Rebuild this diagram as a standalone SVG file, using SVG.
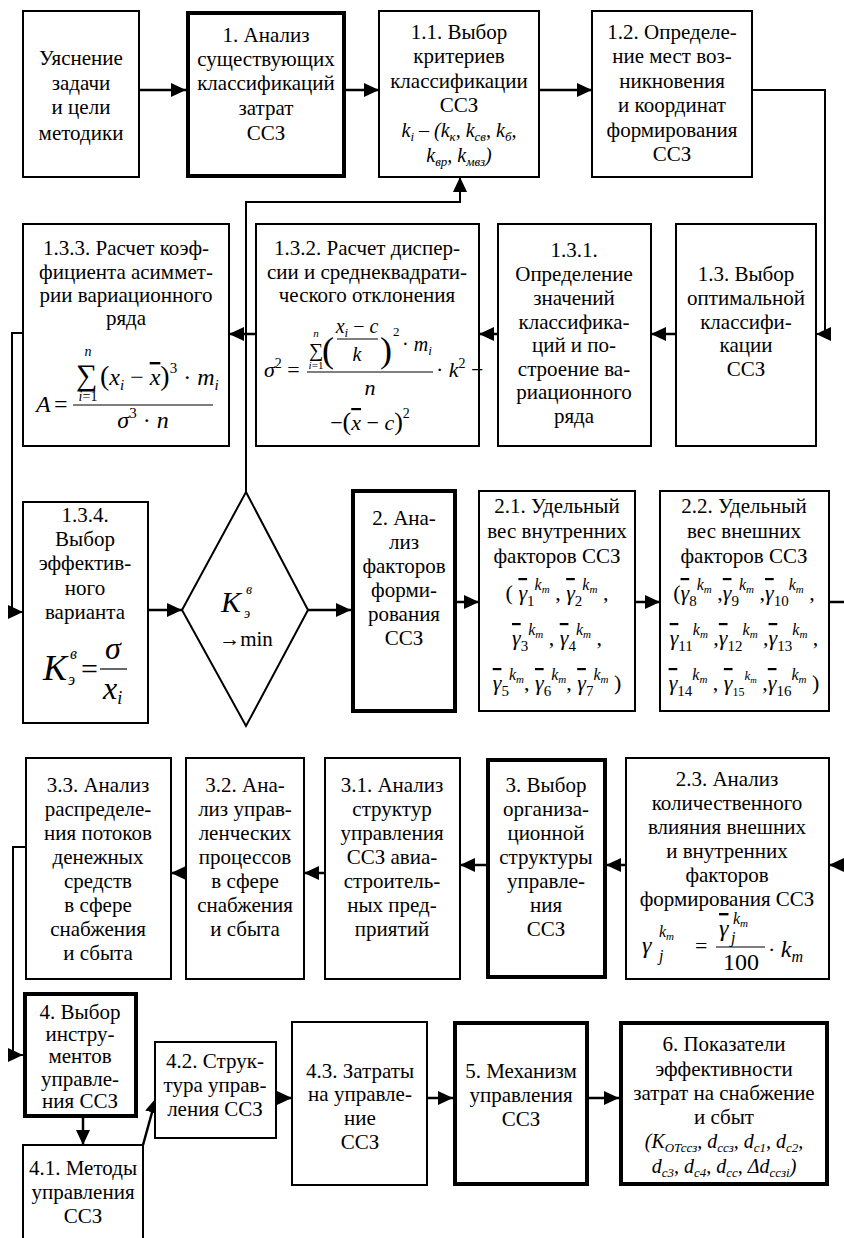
<svg xmlns="http://www.w3.org/2000/svg" width="844" height="1238" viewBox="0 0 844 1238" font-family="Liberation Serif, DejaVu Serif, serif">
<style>
.t{font-family:"Liberation Serif","DejaVu Serif",serif;font-size:21px;text-anchor:middle;fill:#000}
.f{font-family:"Liberation Serif","DejaVu Serif",serif;fill:#000}
.m{text-anchor:middle}
.i{font-style:italic}
.o{text-decoration:overline}
.b{fill:#fff;stroke:#000;stroke-width:2}
.k{fill:#fff;stroke:#000;stroke-width:4}
.c{fill:none;stroke:#000;stroke-width:2.5}
.c2{fill:none;stroke:#000;stroke-width:2}
.fl{stroke:#000;stroke-width:1.2}
</style>
<defs>
<marker id="ah" markerUnits="userSpaceOnUse" markerWidth="16" markerHeight="14" refX="15" refY="7" orient="auto">
<path d="M0,0 L15,7 L0,14 z" fill="#000"/>
</marker>
</defs>
<rect width="844" height="1238" fill="#fff"/>

<g id="connectors">
<path class="c" d="M139,90 H186" marker-end="url(#ah)"/>
<path class="c" d="M346,90 H379" marker-end="url(#ah)"/>
<path class="c" d="M539,90 H592" marker-end="url(#ah)"/>
<path class="c2" d="M752,90 H825 V334 H816" marker-end="url(#ah)"/>
<path class="c" d="M676,334 H651" marker-end="url(#ah)"/>
<path class="c" d="M498,334 H479" marker-end="url(#ah)"/>
<path class="c" d="M256,334 H229" marker-end="url(#ah)"/>
<path class="c2" d="M23,333 H12 V612 H23" marker-end="url(#ah)"/>
<path class="c" d="M148,610 H182" marker-end="url(#ah)"/>
<path class="c" d="M308,610 H351" marker-end="url(#ah)"/>
<path class="c2" d="M246,492 V202 H460 V177" marker-end="url(#ah)"/>
<path class="c" d="M455,602 H479" marker-end="url(#ah)"/>
<path class="c" d="M635,602 H660" marker-end="url(#ah)"/>
<path class="c" d="M829,602 H844"/>
<path class="c" d="M846,865 H829" marker-end="url(#ah)"/>
<path class="c" d="M626,865 H606" marker-end="url(#ah)"/>
<path class="c" d="M486,865 H460" marker-end="url(#ah)"/>
<path class="c" d="M325,873 H304" marker-end="url(#ah)"/>
<path class="c" d="M186,873 H171" marker-end="url(#ah)"/>
<path class="c2" d="M26,847 H13 V1055 H23" marker-end="url(#ah)"/>
<path class="c" d="M83,1118 V1145" marker-end="url(#ah)"/>
<path class="c" d="M143,1145 L156,1098" marker-end="url(#ah)"/>
<path class="c" d="M276,1098 H292" marker-end="url(#ah)"/>
<path class="c" d="M427,1098 H453" marker-end="url(#ah)"/>
<path class="c" d="M589,1098 H619" marker-end="url(#ah)"/>
</g>

<g id="n0">
<rect class="b" x="23" y="11" width="116" height="166"/>
<text class="t"><tspan x="81" y="65">Уяснение</tspan><tspan x="81" y="90">задачи</tspan><tspan x="81" y="114">и цели</tspan><tspan x="81" y="140">методики</tspan></text>
</g>

<g id="n1">
<rect class="k" x="188" y="13" width="156" height="163"/>
<text class="t"><tspan x="266" y="42">1. Анализ</tspan><tspan x="266" y="66">существующих</tspan><tspan x="266" y="90">классификаций</tspan><tspan x="266" y="115">затрат</tspan><tspan x="266" y="140">ССЗ</tspan></text>
</g>

<g id="n11">
<rect class="b" x="379" y="11" width="160" height="166"/>
<text class="t"><tspan x="459" y="39">1.1. Выбор</tspan><tspan x="459" y="63">критериев</tspan><tspan x="459" y="88">классификации</tspan><tspan x="459" y="112">ССЗ</tspan></text>
<text class="f m i" x="459" y="137" font-size="20">k<tspan font-size="13" dy="4">i</tspan><tspan dy="-4"> – (k</tspan><tspan font-size="13" dy="4">к</tspan><tspan dy="-4">, k</tspan><tspan font-size="13" dy="4">св</tspan><tspan dy="-4">, k</tspan><tspan font-size="13" dy="4">б</tspan><tspan dy="-4">,</tspan></text>
<text class="f m i" x="459" y="162" font-size="20">k<tspan font-size="13" dy="4">вр</tspan><tspan dy="-4">, k</tspan><tspan font-size="13" dy="4">мвз</tspan><tspan dy="-4">)</tspan></text>
</g>

<g id="n12">
<rect class="b" x="592" y="11" width="160" height="166"/>
<text class="t"><tspan x="672" y="39">1.2. Определе-</tspan><tspan x="672" y="63">ние мест воз-</tspan><tspan x="672" y="88">никновения</tspan><tspan x="672" y="112">и координат</tspan><tspan x="672" y="137">формирования</tspan><tspan x="672" y="161">ССЗ</tspan></text>
</g>

<g id="n13">
<rect class="b" x="676" y="224" width="140" height="222"/>
<text class="t"><tspan x="746" y="281">1.3. Выбор</tspan><tspan x="746" y="305">оптимальной</tspan><tspan x="746" y="329">классифи-</tspan><tspan x="746" y="352">кации</tspan><tspan x="746" y="376">ССЗ</tspan></text>
</g>

<g id="n131">
<rect class="b" x="498" y="224" width="153" height="222"/>
<text class="t"><tspan x="574" y="257">1.3.1.</tspan><tspan x="574" y="281">Определение</tspan><tspan x="574" y="305">значений</tspan><tspan x="574" y="329">классифика-</tspan><tspan x="574" y="352">ций и по-</tspan><tspan x="574" y="376">строение ва-</tspan><tspan x="574" y="399">риационного</tspan><tspan x="574" y="423">ряда</tspan></text>
</g>

<g id="n132">
<rect class="b" x="256" y="224" width="223" height="222"/>
<text class="t"><tspan x="367" y="255">1.3.2. Расчет диспер-</tspan><tspan x="367" y="279">сии и среднеквадрати-</tspan><tspan x="367" y="302">ческого отклонения</tspan></text>
<text class="f" x="309" y="357" font-size="20">∑</text>
<text class="f m i" x="316" y="337" font-size="11">n</text>
<text class="f m" x="316" y="369" font-size="11"><tspan class="i">i</tspan>=1</text>
<text class="f" x="322" y="362" font-size="36">(</text>
<text class="f m i" x="357" y="333" font-size="20">x<tspan font-size="13" dy="4">i</tspan><tspan dy="-4" font-style="normal"> − </tspan>c</text>
<line class="fl" x1="337" y1="339" x2="378" y2="339"/>
<text class="f m i" x="357" y="361" font-size="20">k</text>
<text class="f" x="380" y="362" font-size="36">)</text>
<text class="f" x="393" y="336" font-size="13">2</text>
<text class="f" x="402" y="351" font-size="20">· <tspan class="i">m</tspan><tspan class="i" font-size="13" dy="4">i</tspan></text>
<text class="f" x="264" y="377" font-size="22"><tspan class="i">σ</tspan><tspan font-size="14" dy="-9">2</tspan><tspan dy="9"> =</tspan></text>
<line class="fl" x1="307" y1="372" x2="433" y2="372"/>
<text class="f" x="436" y="377" font-size="22">· <tspan class="i">k</tspan><tspan font-size="14" dy="-9">2</tspan><tspan dy="9"> −</tspan></text>
<text class="f m i" x="370" y="395" font-size="22">n</text>
<text class="f m" x="370" y="430" font-size="22">−<tspan font-size="26">(</tspan><tspan class="i o">x</tspan> − <tspan class="i">c</tspan><tspan font-size="26">)</tspan><tspan font-size="14" dy="-12">2</tspan></text>
</g>

<g id="n133">
<rect class="b" x="23" y="224" width="206" height="222"/>
<text class="t"><tspan x="126" y="255">1.3.3. Расчет коэф-</tspan><tspan x="126" y="279">фициента асиммет-</tspan><tspan x="126" y="302">рии вариационного</tspan><tspan x="126" y="325">ряда</tspan></text>
<text class="f i" x="36" y="412" font-size="24">A</text>
<text class="f" x="54" y="412" font-size="24">=</text>
<line class="fl" x1="73" y1="405" x2="213" y2="405"/>
<text class="f" x="76" y="385" font-size="30">∑</text>
<text class="f m i" x="88" y="356" font-size="14">n</text>
<text class="f m" x="88" y="401" font-size="14"><tspan class="i">i</tspan>=1</text>
<text class="f" x="100" y="385" font-size="24"><tspan font-size="28">(</tspan><tspan class="i">x</tspan><tspan class="i" font-size="15" dy="5">i</tspan><tspan dy="-5"> − </tspan><tspan class="i o">x</tspan><tspan font-size="28">)</tspan><tspan font-size="15" dy="-12">3</tspan><tspan dy="12"> · </tspan><tspan class="i">m</tspan><tspan class="i" font-size="15" dy="5">i</tspan></text>
<text class="f m" x="143" y="428" font-size="24"><tspan class="i">σ</tspan><tspan font-size="15" dy="-10">3</tspan><tspan dy="10"> · </tspan><tspan class="i">n</tspan></text>
</g>

<g id="n134">
<rect class="b" x="23" y="502" width="125" height="221"/>
<text class="t"><tspan x="85" y="522">1.3.4.</tspan><tspan x="85" y="546">Выбор</tspan><tspan x="85" y="570">эффектив-</tspan><tspan x="85" y="595">ного</tspan><tspan x="85" y="619">варианта</tspan></text>
<text class="f i" x="43" y="680" font-size="36">K</text>
<text class="f i" x="68" y="685" font-size="16">э</text>
<text class="f i" x="70" y="659" font-size="16">в</text>
<text class="f" x="81" y="679" font-size="30">=</text>
<text class="f m i" x="113" y="659" font-size="32">σ</text>
<line class="fl" x1="100" y1="669" x2="127" y2="669"/>
<text class="f i" x="103" y="699" font-size="32">x<tspan font-size="18" dy="5">i</tspan></text>
</g>

<g id="nd">
<polygon points="246,492 308,610 246,726 182,610" fill="#fff" stroke="#000" stroke-width="2"/>
<text class="f i" x="221" y="612" font-size="30">K</text>
<text class="f i" x="244" y="618" font-size="14">э</text>
<text class="f i" x="246" y="594" font-size="14">в</text>
<text class="t" x="246" y="646">→min</text>
</g>

<g id="n2">
<rect class="k" x="353" y="491" width="102" height="220"/>
<text class="t"><tspan x="404" y="525">2. Ана-</tspan><tspan x="404" y="549">лиз</tspan><tspan x="404" y="573">факторов</tspan><tspan x="404" y="597">форми-</tspan><tspan x="404" y="621">рования</tspan><tspan x="404" y="645">ССЗ</tspan></text>
</g>

<g id="n21">
<rect class="b" x="479" y="491" width="156" height="220"/>
<text class="t"><tspan x="557" y="513">2.1. Удельный</tspan><tspan x="557" y="538">вес внутренних</tspan><tspan x="557" y="563">факторов ССЗ</tspan></text>
<text class="f m" x="557" y="600" font-size="22">( <tspan class="i o">γ</tspan><tspan font-size="15" dy="6">1</tspan><tspan class="i" font-size="16" dy="-16">k</tspan><tspan class="i" font-size="11" dy="3">m</tspan><tspan dy="7"> , </tspan><tspan class="i o">γ</tspan><tspan font-size="15" dy="6">2</tspan><tspan class="i" font-size="16" dy="-16">k</tspan><tspan class="i" font-size="11" dy="3">m</tspan><tspan dy="7"> ,</tspan></text>
<text class="f m" x="557" y="645" font-size="22"><tspan class="i o">γ</tspan><tspan font-size="15" dy="6">3</tspan><tspan class="i" font-size="16" dy="-16">k</tspan><tspan class="i" font-size="11" dy="3">m</tspan><tspan dy="7"> , </tspan><tspan class="i o">γ</tspan><tspan font-size="15" dy="6">4</tspan><tspan class="i" font-size="16" dy="-16">k</tspan><tspan class="i" font-size="11" dy="3">m</tspan><tspan dy="7"> ,</tspan></text>
<text class="f m" x="557" y="690" font-size="22"><tspan class="i o">γ</tspan><tspan font-size="15" dy="6">5</tspan><tspan class="i" font-size="16" dy="-16">k</tspan><tspan class="i" font-size="11" dy="3">m</tspan><tspan dy="7">, </tspan><tspan class="i o">γ</tspan><tspan font-size="15" dy="6">6</tspan><tspan class="i" font-size="16" dy="-16">k</tspan><tspan class="i" font-size="11" dy="3">m</tspan><tspan dy="7">, </tspan><tspan class="i o">γ</tspan><tspan font-size="15" dy="6">7</tspan><tspan class="i" font-size="16" dy="-16">k</tspan><tspan class="i" font-size="11" dy="3">m</tspan><tspan dy="7"> )</tspan></text>
</g>

<g id="n22">
<rect class="b" x="660" y="491" width="169" height="220"/>
<text class="t"><tspan x="744" y="513">2.2. Удельный</tspan><tspan x="744" y="538">вес внешних</tspan><tspan x="744" y="563">факторов ССЗ</tspan></text>
<text class="f m" x="744" y="600" font-size="22">(<tspan class="i o">γ</tspan><tspan font-size="15" dy="6">8</tspan><tspan class="i" font-size="16" dy="-16">k</tspan><tspan class="i" font-size="11" dy="3">m</tspan><tspan dy="7"> ,</tspan><tspan class="i o">γ</tspan><tspan font-size="15" dy="6">9</tspan><tspan class="i" font-size="16" dy="-16">k</tspan><tspan class="i" font-size="11" dy="3">m</tspan><tspan dy="7"> ,</tspan><tspan class="i o">γ</tspan><tspan font-size="15" dy="6">10</tspan><tspan class="i" font-size="16" dy="-16">k</tspan><tspan class="i" font-size="11" dy="3">m</tspan><tspan dy="7"> ,</tspan></text>
<text class="f m" x="744" y="645" font-size="22"><tspan class="i o">γ</tspan><tspan font-size="15" dy="6">11</tspan><tspan class="i" font-size="16" dy="-16">k</tspan><tspan class="i" font-size="11" dy="3">m</tspan><tspan dy="7"> ,</tspan><tspan class="i o">γ</tspan><tspan font-size="15" dy="6">12</tspan><tspan class="i" font-size="16" dy="-16">k</tspan><tspan class="i" font-size="11" dy="3">m</tspan><tspan dy="7"> ,</tspan><tspan class="i o">γ</tspan><tspan font-size="15" dy="6">13</tspan><tspan class="i" font-size="16" dy="-16">k</tspan><tspan class="i" font-size="11" dy="3">m</tspan><tspan dy="7"> ,</tspan></text>
<text class="f m" x="744" y="690" font-size="22"><tspan class="i o">γ</tspan><tspan font-size="15" dy="6">14</tspan><tspan class="i" font-size="16" dy="-16">k</tspan><tspan class="i" font-size="11" dy="3">m</tspan><tspan dy="7"> , </tspan><tspan class="i o">γ</tspan><tspan font-size="12" dy="6">15</tspan><tspan class="i" font-size="13" dy="-16">k</tspan><tspan class="i" font-size="9" dy="3">m</tspan><tspan dy="7"> ,</tspan><tspan class="i o">γ</tspan><tspan font-size="15" dy="6">16</tspan><tspan class="i" font-size="16" dy="-16">k</tspan><tspan class="i" font-size="11" dy="3">m</tspan><tspan dy="7"> )</tspan></text>
</g>

<g id="n23">
<rect class="b" x="626" y="758" width="203" height="221"/>
<text class="t"><tspan x="727" y="786">2.3. Анализ</tspan><tspan x="727" y="810">количественного</tspan><tspan x="727" y="834">влияния внешних</tspan><tspan x="727" y="858">и внутренних</tspan><tspan x="727" y="882">факторов</tspan><tspan x="727" y="906">формирования ССЗ</tspan></text>
<text class="f i" x="642" y="953" font-size="24">γ</text>
<text class="f i" x="659" y="937" font-size="16">k<tspan font-size="11" dy="3">m</tspan></text>
<text class="f i" x="659" y="961" font-size="16">j</text>
<text class="f" x="695" y="953" font-size="22">=</text>
<line class="fl" x1="716" y1="947" x2="765" y2="947"/>
<text class="f i o" x="719" y="936" font-size="24">γ</text>
<text class="f i" x="733" y="924" font-size="16">k<tspan font-size="11" dy="3">m</tspan></text>
<text class="f i" x="731" y="943" font-size="16">j</text>
<text class="f m" x="741" y="970" font-size="24">100</text>
<text class="f" x="768" y="957" font-size="22">· <tspan class="i" font-size="24">k</tspan><tspan class="i" font-size="16" dy="5">m</tspan></text>
</g>

<g id="n3">
<rect class="k" x="488" y="760" width="117" height="217"/>
<text class="t"><tspan x="546" y="792">3. Выбор</tspan><tspan x="546" y="816">организа-</tspan><tspan x="546" y="840">ционной</tspan><tspan x="546" y="864">структуры</tspan><tspan x="546" y="888">управле-</tspan><tspan x="546" y="912">ния</tspan><tspan x="546" y="936">ССЗ</tspan></text>
</g>

<g id="n31">
<rect class="b" x="325" y="758" width="135" height="221"/>
<text class="t"><tspan x="392" y="792">3.1. Анализ</tspan><tspan x="392" y="816">структур</tspan><tspan x="392" y="840">управления</tspan><tspan x="392" y="864">ССЗ авиа-</tspan><tspan x="392" y="888">строитель-</tspan><tspan x="392" y="912">ных пред-</tspan><tspan x="392" y="936">приятий</tspan></text>
</g>

<g id="n32">
<rect class="b" x="186" y="758" width="118" height="221"/>
<text class="t"><tspan x="245" y="792">3.2. Ана-</tspan><tspan x="245" y="816">лиз управ-</tspan><tspan x="245" y="840">ленческих</tspan><tspan x="245" y="864">процессов</tspan><tspan x="245" y="888">в сфере</tspan><tspan x="245" y="912">снабжения</tspan><tspan x="245" y="936">и сбыта</tspan></text>
</g>

<g id="n33">
<rect class="b" x="26" y="758" width="145" height="221"/>
<text class="t"><tspan x="98" y="792">3.3. Анализ</tspan><tspan x="98" y="816">распределе-</tspan><tspan x="98" y="840">ния потоков</tspan><tspan x="98" y="864">денежных</tspan><tspan x="98" y="888">средств</tspan><tspan x="98" y="912">в сфере</tspan><tspan x="98" y="936">снабжения</tspan><tspan x="98" y="960">и сбыта</tspan></text>
</g>

<g id="n4">
<rect class="k" x="25" y="994" width="111" height="122"/>
<text class="t"><tspan x="80" y="1019">4. Выбор</tspan><tspan x="80" y="1041">инстру-</tspan><tspan x="80" y="1063">ментов</tspan><tspan x="80" y="1086">управле-</tspan><tspan x="80" y="1108">ния ССЗ</tspan></text>
</g>

<g id="n41">
<rect class="b" x="23" y="1145" width="120" height="110"/>
<text class="t"><tspan x="83" y="1175">4.1. Методы</tspan><tspan x="83" y="1199">управления</tspan><tspan x="83" y="1223">ССЗ</tspan></text>
</g>

<g id="n42">
<rect class="b" x="155" y="1042" width="121" height="96"/>
<text class="t"><tspan x="215" y="1068">4.2. Струк-</tspan><tspan x="215" y="1092">тура управ-</tspan><tspan x="215" y="1116">ления ССЗ</tspan></text>
</g>

<g id="n43">
<rect class="b" x="292" y="1022" width="135" height="163"/>
<text class="t"><tspan x="360" y="1078">4.3. Затраты</tspan><tspan x="360" y="1101">на управле-</tspan><tspan x="360" y="1125">ние</tspan><tspan x="360" y="1149">ССЗ</tspan></text>
</g>

<g id="n5">
<rect class="k" x="455" y="1023" width="132" height="161"/>
<text class="t"><tspan x="521" y="1078">5. Механизм</tspan><tspan x="521" y="1102">управления</tspan><tspan x="521" y="1126">ССЗ</tspan></text>
</g>

<g id="n6">
<rect class="k" x="621" y="1023" width="206" height="161"/>
<text class="t"><tspan x="724" y="1051">6. Показатели</tspan><tspan x="724" y="1076">эффективности</tspan><tspan x="724" y="1100">затрат на снабжение</tspan><tspan x="724" y="1124">и сбыт</tspan></text>
<text class="f m i" x="724" y="1148" font-size="20">(К<tspan font-size="13" dy="4">ОТссз</tspan><tspan dy="-4">, d</tspan><tspan font-size="13" dy="4">ссз</tspan><tspan dy="-4">, d</tspan><tspan font-size="13" dy="4">с1</tspan><tspan dy="-4">, d</tspan><tspan font-size="13" dy="4">с2</tspan><tspan dy="-4">,</tspan></text>
<text class="f m i" x="724" y="1173" font-size="20">d<tspan font-size="13" dy="4">с3</tspan><tspan dy="-4">, d</tspan><tspan font-size="13" dy="4">с4</tspan><tspan dy="-4">, d</tspan><tspan font-size="13" dy="4">сс</tspan><tspan dy="-4">, Δd</tspan><tspan font-size="13" dy="4">ссзi</tspan><tspan dy="-4">)</tspan></text>
</g>
</svg>
